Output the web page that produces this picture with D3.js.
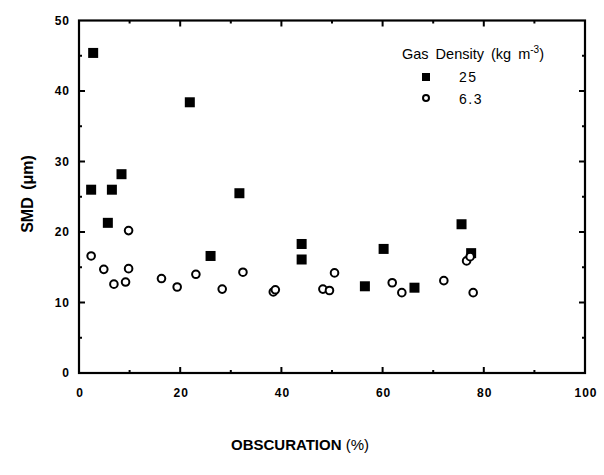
<!DOCTYPE html>
<html>
<head>
<meta charset="utf-8">
<script src="https://cdn.jsdelivr.net/npm/d3@7"></script>
<style>
	body { margin: 0; background: #fff; }
	text { font-family: "Liberation Sans", Arial, sans-serif; fill: #000; }
	.tick-label { font-size: 12px; font-weight: bold; letter-spacing: 1px; }
</style>
</head>
<body>
<div id="canvas"></div>
<script>
// obscuration (%) and SMD (um)
var dense_x = [2.8, 2.4, 5.7, 6.5, 8.4, 21.9, 26.0, 31.7, 44.0, 44.0, 56.5, 60.2, 66.3, 75.6, 77.5];
var dense_y = [45.4, 26.0, 21.3, 26.0, 28.2, 38.4, 16.6, 25.5, 18.3, 16.1, 12.3, 17.6, 12.1, 21.1, 17.0];

var light_x = [2.4, 4.9, 6.9, 9.2, 9.8, 9.8, 16.3, 19.4, 23.1, 28.3, 32.4, 38.4, 38.8, 48.2, 49.5, 50.5, 61.9, 63.8, 72.1, 76.6, 77.3, 77.9];
var light_y = [16.6, 14.7, 12.6, 12.9, 20.2, 14.8, 13.4, 12.2, 14.0, 11.9, 14.3, 11.5, 11.8, 11.9, 11.7, 14.2, 12.8, 11.4, 13.1, 15.9, 16.5, 11.4];

var x_ticks = [0, 20, 40, 60, 80, 100];
var y_ticks = [0, 10, 20, 30, 40, 50];
var legend_labels = ["25", "6.3"];

var w = 604, h = 475;
var svg = d3.select("#canvas").append("svg")
	.attr("width", w)
	.attr("height", h);

var xScale = d3.scaleLinear().domain([0, 100]).range([79, 585]);
var yScale = d3.scaleLinear().domain([0, 50]).range([373, 20.5]);

var x0 = xScale(0), x1 = xScale(100), y0 = yScale(0), y1 = yScale(50);

// ticks: majors every 20 / 10, minors in between, pointing inward on all four sides
var xMinor = d3.range(10, 100, 20);
var yMinor = d3.range(5, 50, 10);

function tickLines(vals, len, horizontal){
	vals.forEach(function(v){
		if(horizontal){
			var x = xScale(v);
			svg.append("line").attr("x1", x).attr("x2", x).attr("y1", y0).attr("y2", y0 - len);
			svg.append("line").attr("x1", x).attr("x2", x).attr("y1", y1).attr("y2", y1 + len);
		}else{
			var y = yScale(v);
			svg.append("line").attr("x1", x0).attr("x2", x0 + len).attr("y1", y).attr("y2", y);
			svg.append("line").attr("x1", x1).attr("x2", x1 - len).attr("y1", y).attr("y2", y);
		}
	});
}
tickLines(x_ticks.slice(1, -1), 6, true);
tickLines(xMinor, 3, true);
tickLines(y_ticks.slice(1, -1), 6, false);
tickLines(yMinor, 3, false);
svg.selectAll("line").attr("stroke", "#000").attr("stroke-width", 2);

svg.append("rect")
	.attr("x", x0)
	.attr("y", y1)
	.attr("width", x1 - x0)
	.attr("height", y0 - y1)
	.attr("fill", "none")
	.attr("stroke", "#000")
	.attr("stroke-width", 2.2);

svg.selectAll(".xlab")
	.data(x_ticks)
	.enter()
	.append("text")
	.attr("class", "tick-label")
	.attr("x", function(d){ return xScale(d) + 1; })
	.attr("y", 397)
	.attr("text-anchor", "middle")
	.text(function(d){ return d; });

svg.selectAll(".ylab")
	.data(y_ticks)
	.enter()
	.append("text")
	.attr("class", "tick-label")
	.attr("x", 70)
	.attr("y", function(d){ return yScale(d) + 4; })
	.attr("text-anchor", "end")
	.text(function(d){ return d; });

var yTitle = svg.append("text")
	.attr("transform", "translate(33, 194) rotate(-90)")
	.attr("text-anchor", "middle")
	.attr("font-size", 16)
	.attr("font-weight", "bold")
	.attr("word-spacing", 3);
yTitle.append("tspan").text("SMD ");
yTitle.append("tspan").text("(\u03bcm)");

var xTitle = svg.append("text")
	.attr("x", 300)
	.attr("y", 450)
	.attr("text-anchor", "middle")
	.attr("font-size", 15);
xTitle.append("tspan").attr("font-weight", "bold").text("OBSCURATION ");
xTitle.append("tspan").text("(%)");

// data marks
var dense = d3.zip(dense_x, dense_y);
var light = d3.zip(light_x, light_y);

svg.selectAll(".sq")
	.data(dense)
	.enter()
	.append("rect")
	.attr("x", function(d){ return xScale(d[0]) - 5; })
	.attr("y", function(d){ return yScale(d[1]) - 5; })
	.attr("width", 10)
	.attr("height", 10)
	.attr("fill", "#000");

svg.selectAll(".ci")
	.data(light)
	.enter()
	.append("circle")
	.attr("cx", function(d){ return xScale(d[0]); })
	.attr("cy", function(d){ return yScale(d[1]); })
	.attr("r", 3.8)
	.attr("fill", "#fff")
	.attr("stroke", "#000")
	.attr("stroke-width", 2);

// legend
var legend = svg.append("g").attr("transform", "translate(402, 0)");
var head = legend.append("text")
	.attr("x", 0)
	.attr("y", 59)
	.attr("font-size", 14.5)
	.attr("word-spacing", 3);
head.append("tspan").text("Gas Density (kg m");
head.append("tspan").attr("font-size", 10).attr("dy", -6).text("-3");
head.append("tspan").attr("dy", 6).text(")");

legend.append("rect")
	.attr("x", 20)
	.attr("y", 73)
	.attr("width", 8)
	.attr("height", 8)
	.attr("fill", "#000");
legend.append("circle")
	.attr("cx", 24)
	.attr("cy", 98)
	.attr("r", 3)
	.attr("fill", "#fff")
	.attr("stroke", "#000")
	.attr("stroke-width", 2);

legend.selectAll(".ll")
	.data(legend_labels)
	.enter()
	.append("text")
	.attr("x", 57)
	.attr("y", function(d, i){ return 82 + i * 22; })
	.attr("font-size", 14)
	.attr("letter-spacing", 1.5)
	.text(function(d){ return d; });
</script>
</body>
</html>
